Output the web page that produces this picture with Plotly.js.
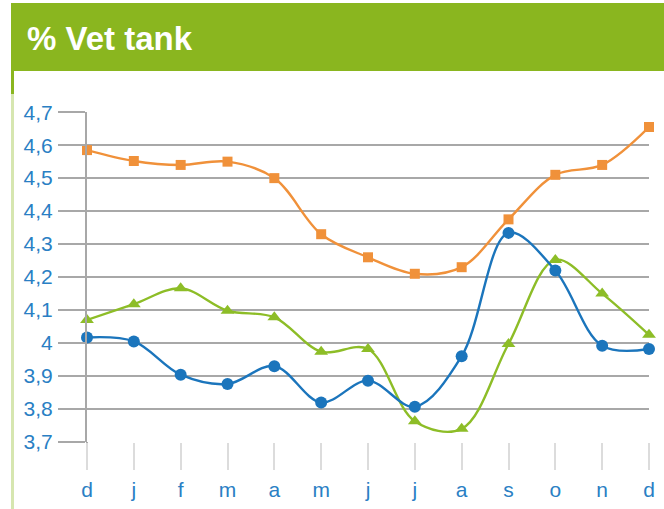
<!DOCTYPE html>
<html>
<head>
<meta charset="utf-8">
<script src="https://cdn.plot.ly/plotly-3.0.1.min.js"></script>
<style>
  html, body { margin: 0; padding: 0; background: #ffffff; }
  #chart { width: 664px; height: 509px; }
</style>
</head>
<body>
<div id="chart"></div>
<script>
var months = ['d', 'j', 'f', 'm', 'a', 'm', 'j', 'j', 'a', 's', 'o', 'n', 'd'];
var orangeValues = [4.585, 4.552, 4.54, 4.55, 4.50, 4.33, 4.26, 4.21, 4.23, 4.375, 4.51, 4.54, 4.655];
var blueValues = [4.017, 4.005, 3.904, 3.876, 3.93, 3.82, 3.886, 3.807, 3.96, 4.334, 4.22, 3.992, 3.982];
var greenValues = [4.07, 4.118, 4.166, 4.098, 4.078, 3.974, 3.982, 3.763, 3.74, 3.997, 4.252, 4.15, 4.025];
var yTickValues = [3.7, 3.8, 3.9, 4.0, 4.1, 4.2, 4.3, 4.4, 4.5, 4.6, 4.7];
var yTickLabels = ['3,7', '3,8', '3,9', '4', '4,1', '4,2', '4,3', '4,4', '4,5', '4,6', '4,7'];

var xIdx = months.map(function (_, i) { return i; });

function series(vals, color, symbol, size) {
  return {
    x: xIdx, y: vals, type: 'scatter', mode: 'lines+markers',
    cliponaxis: false,
    line: { color: color, width: 2.4, shape: 'spline', smoothing: 1 },
    marker: { color: color, symbol: symbol, size: size },
    hoverinfo: 'y', showlegend: false
  };
}

var data = [
  series(orangeValues, '#f0913a', 'square', 10),
  series(greenValues, '#8dbd27', 'triangle-up', 12),
  series(blueValues, '#1b75bc', 'circle', 12)
];

var plotL = 87, plotR = 649, plotT = 112, plotB = 442;
var W = 664, H = 509;
function px(xPix) { return (xPix - plotL) / (plotR - plotL); }
function py(yPix) { return (plotB - yPix) / (plotB - plotT); }

var layout = {
  width: W, height: H,
  margin: { l: plotL, r: W - plotR, t: plotT, b: H - plotB, pad: 0 },
  paper_bgcolor: '#ffffff', plot_bgcolor: '#ffffff',
  separators: ', ',
  font: { family: '"Liberation Sans", Arial, sans-serif' },
  title: {
    text: '% Vet tank',
    font: { family: '"Liberation Sans", Arial, sans-serif', size: 33, color: '#ffffff', weight: 'bold' },
    xref: 'container', yref: 'container',
    x: 27 / W, xanchor: 'left',
    y: 1 - 38 / H, yanchor: 'middle'
  },
  xaxis: {
    range: [0, 12],
    tickmode: 'array', tickvals: xIdx, ticktext: months,
    showgrid: false, zeroline: false,
    showline: false,
    ticks: 'outside', ticklen: 27, tickwidth: 2, tickcolor: '#dcdcdc',
    tickfont: { size: 21, color: '#2a7fc4' },
    ticklabelstandoff: 2,
    fixedrange: true
  },
  yaxis: {
    range: [3.7, 4.7005],
    tickmode: 'array', tickvals: yTickValues, ticktext: yTickLabels,
    showgrid: true, gridcolor: '#a8a8a8', gridwidth: 2,
    zeroline: false,
    showline: true, linecolor: '#a8a8a8', linewidth: 2,
    ticks: 'outside', ticklen: 27, tickwidth: 2, tickcolor: '#a8a8a8',
    tickfont: { size: 21, color: '#2a7fc4' },
    ticklabelstandoff: 1,
    fixedrange: true
  },
  shapes: [
    { type: 'rect', xref: 'paper', yref: 'paper', layer: 'below',
      x0: px(11), x1: px(W + 2), y0: py(71), y1: py(3),
      fillcolor: '#8ab61f', line: { width: 0 } },
    { type: 'rect', xref: 'paper', yref: 'paper', layer: 'below',
      x0: px(11), x1: px(14), y0: py(H + 2), y1: py(71),
      fillcolor: '#d6e6b0', line: { width: 0 } },
    { type: 'rect', xref: 'paper', yref: 'paper', layer: 'below',
      x0: px(11), x1: px(14), y0: py(94), y1: py(71),
      fillcolor: '#8ab61f', line: { width: 0 } },
    { type: 'line', xref: 'paper', yref: 'paper', layer: 'below',
      x0: 0, x1: 0, y0: py(plotB + 27), y1: py(plotB),
      line: { color: '#a8a8a8', width: 2 } }
  ]
};

Plotly.newPlot('chart', data, layout, { displayModeBar: false, staticPlot: true });
</script>
</body>
</html>
